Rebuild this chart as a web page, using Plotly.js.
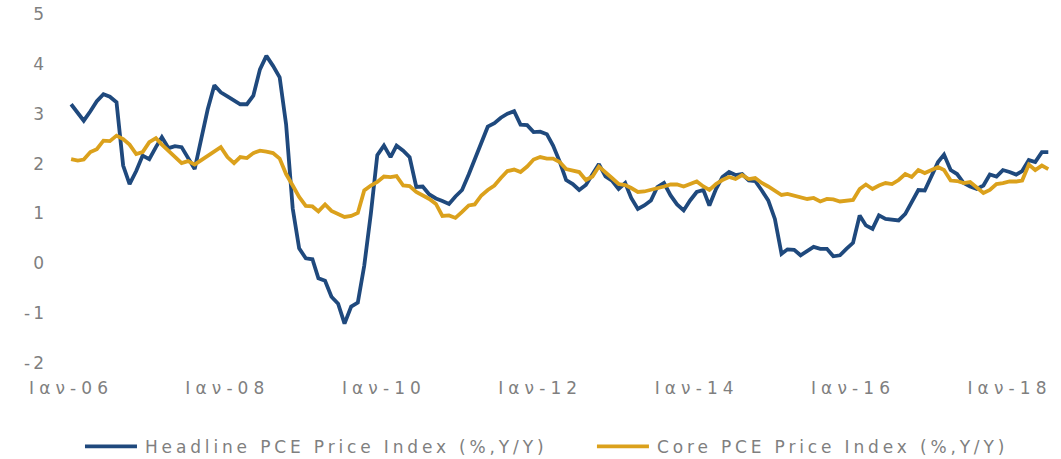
<!DOCTYPE html>
<html><head><meta charset="utf-8">
<script src="https://cdn.plot.ly/plotly-3.0.1.min.js"></script>
<style>
html,body{margin:0;padding:0;background:#fff;}
.xtick text {letter-spacing:5.1px;}
.ytick text {letter-spacing:3px;}
</style></head><body>
<div id="chart" style="width:1061px;height:459px;"></div>
<script>
const seriesNames = ['Headline PCE Price Index (%,Y/Y)', 'Core PCE Price Index (%,Y/Y)'];
const headline = [
 3.19, 3.0, 2.86, 3.05, 3.25, 3.39, 3.34, 3.23, 1.96, 1.59, 1.85, 2.16,
 2.09, 2.33, 2.53, 2.31, 2.35, 2.33, 2.13, 1.89, 2.5, 3.09, 3.57, 3.43,
 3.35, 3.26, 3.19, 3.19, 3.36, 3.89, 4.16, 3.96, 3.73, 2.79, 1.1, 0.3,
 0.1, 0.08, -0.3, -0.35, -0.67, -0.81, -1.21, -0.87, -0.79, -0.05, 1.0, 2.17,
 2.36, 2.13, 2.36, 2.26, 2.13, 1.53, 1.54, 1.38, 1.3, 1.25, 1.19, 1.34,
 1.47, 1.78, 2.08, 2.46, 2.74, 2.81, 2.92, 3.0, 3.05, 2.78, 2.77, 2.63,
 2.64, 2.59, 2.36, 2.04, 1.67, 1.59, 1.47, 1.57, 1.78, 1.99, 1.74, 1.66,
 1.49, 1.61, 1.31, 1.09, 1.16, 1.26, 1.53, 1.61, 1.36, 1.18, 1.06, 1.26,
 1.43, 1.47, 1.16, 1.49, 1.73, 1.83, 1.77, 1.79, 1.66, 1.65, 1.46, 1.26,
 0.89, 0.19, 0.28, 0.27, 0.16, 0.25, 0.33, 0.29, 0.29, 0.14, 0.16, 0.29,
 0.41, 0.96, 0.76, 0.69, 0.96, 0.89, 0.87, 0.86, 0.99, 1.23, 1.47, 1.46,
 1.73, 2.03, 2.18, 1.87, 1.79, 1.61, 1.54, 1.49, 1.56, 1.78, 1.74, 1.87,
 1.83, 1.78, 1.85, 2.07, 2.03, 2.23, 2.23
];
const core = [
 2.09, 2.06, 2.08, 2.23, 2.29, 2.46, 2.45, 2.56, 2.49, 2.38, 2.19, 2.23,
 2.43, 2.51, 2.38, 2.26, 2.13, 2.01, 2.05, 1.98, 2.07, 2.16, 2.26, 2.33,
 2.13, 2.01, 2.13, 2.11, 2.21, 2.26, 2.24, 2.21, 2.1, 1.79, 1.56, 1.33,
 1.15, 1.14, 1.04, 1.18, 1.05, 0.98, 0.93, 0.95, 1.01, 1.46, 1.56, 1.63,
 1.74, 1.73, 1.75, 1.56, 1.55, 1.43, 1.36, 1.29, 1.19, 0.95, 0.96, 0.91,
 1.03, 1.16, 1.18, 1.36, 1.47, 1.56, 1.71, 1.85, 1.88, 1.83, 1.94, 2.08,
 2.13, 2.1, 2.1, 2.03, 1.89, 1.86, 1.83, 1.67, 1.74, 1.94, 1.81, 1.71,
 1.59, 1.57, 1.51, 1.43, 1.44, 1.47, 1.5, 1.54, 1.58, 1.58, 1.54, 1.59,
 1.64, 1.54, 1.47, 1.59, 1.67, 1.73, 1.69, 1.77, 1.69, 1.71, 1.61, 1.54,
 1.46, 1.37, 1.39, 1.36, 1.33, 1.29, 1.31, 1.24, 1.29, 1.28, 1.24, 1.26,
 1.27, 1.49, 1.58, 1.49, 1.56, 1.61, 1.59, 1.67, 1.79, 1.73, 1.87, 1.81,
 1.87, 1.93, 1.87, 1.66, 1.65, 1.61, 1.63, 1.53, 1.41, 1.47, 1.59, 1.61,
 1.64, 1.64, 1.66, 1.98, 1.87, 1.96, 1.89
];
const tickVals = ['2006-01-01','2008-01-01','2010-01-01','2012-01-01','2014-01-01','2016-01-01','2018-01-01'];
const tickText = ['Ιαν-06','Ιαν-08','Ιαν-10','Ιαν-12','Ιαν-14','Ιαν-16','Ιαν-18'];
const yTicks = [-2, -1, 0, 1, 2, 3, 4, 5];
const yTickText = ['-2', '-1', '0', '1', '2', '3', '4', '5'];

const months = headline.map((_, i) => {
  const y = 2006 + Math.floor(i / 12);
  const m = (i % 12) + 1;
  return y + '-' + String(m).padStart(2, '0') + '-01';
});

const font = 'DejaVu Sans, Verdana, sans-serif';
const grey = '#7f7f7f';

const traces = [
  {x: months, y: headline, name: seriesNames[0], type: 'scatter', mode: 'lines',
   line: {color: '#1f497d', width: 3.8}, legend: 'legend'},
  {x: months, y: core, name: seriesNames[1], type: 'scatter', mode: 'lines',
   line: {color: '#dba11c', width: 3.8}, legend: 'legend2'}
];

const legendBase = {orientation: 'h', y: -0.24, yanchor: 'middle', xanchor: 'left',
  itemwidth: 55, font: {family: font, size: 17, color: grey}, bgcolor: 'rgba(0,0,0,0)'};

const layout = {
  width: 1061, height: 459,
  margin: {l: 45, r: 5, t: 14, b: 96, autoexpand: false},
  paper_bgcolor: '#fff', plot_bgcolor: '#fff',
  showlegend: true,
  xaxis: {type: 'date', range: ['2005-09-01', '2018-08-06'],
    tickvals: tickVals, ticktext: tickText, showgrid: false, zeroline: false,
    showline: false, ticks: '', ticklabelstandoff: 13,
    tickfont: {family: font, size: 17, color: grey}},
  yaxis: {range: [-2, 5], tickvals: yTicks, ticktext: yTickText, showgrid: false, zeroline: false,
    showline: false, ticks: '', ticklabelstandoff: -3,
    tickfont: {family: font, size: 17, color: grey}},
  legend: Object.assign({}, legendBase, {x: 0.0346}),
  legend2: Object.assign({}, legendBase, {x: 0.541})
};

Plotly.newPlot('chart', traces, layout, {displayModeBar: false, staticPlot: true}).then(() => {
  const info = document.querySelector('.infolayer');
  info.querySelectorAll('[clip-path]').forEach(e => e.removeAttribute('clip-path'));
  info.querySelectorAll('text').forEach(t => { t.style.letterSpacing = '3.85px'; });
  info.querySelectorAll('.legendlines path').forEach(p => p.setAttribute('d', 'M5,0h52'));
  info.querySelectorAll('rect.bg').forEach(r => r.setAttribute('width', '470'));
  document.querySelectorAll('clipPath[id*="legend"] rect').forEach(r => r.setAttribute('width', '470'));
});
</script>
</body></html>
